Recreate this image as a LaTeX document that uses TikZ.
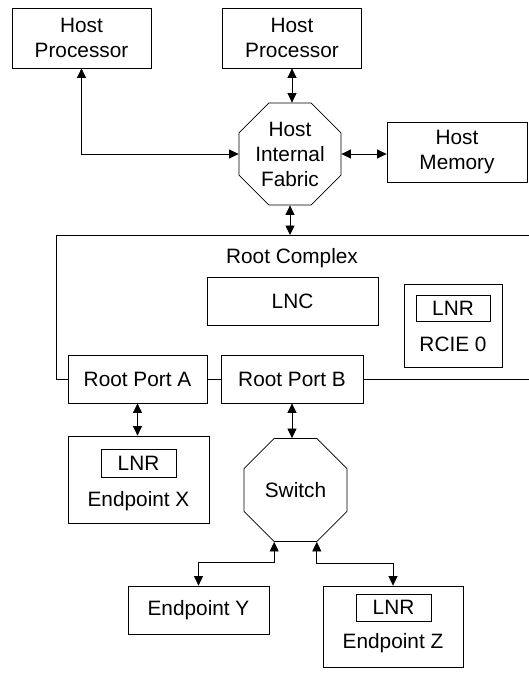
\documentclass[tikz,border=0pt]{standalone}
\usepackage{fontspec}
\setmainfont{Liberation Sans}
\usetikzlibrary{arrows.meta,shapes.geometric}
\begin{document}
\begin{tikzpicture}[x=1pt,y=-1pt,
  every node/.style={font=\fontsize{20.8}{25}\selectfont, inner sep=0pt, align=center},
  box/.style={draw, line width=0.8pt, fill=white},
  oct/.style={draw, line width=0.8pt, fill=white, regular polygon, regular polygon sides=8, minimum size=#1},
  link/.style={line width=0.8pt, {Triangle[length=9.5pt,width=9pt]}-{Triangle[length=9.5pt,width=9pt]}},
  outline/.style={line width=0.8pt}
]
\useasboundingbox (0,0) rectangle (529,675);

% Root complex outline (open on the right)
\coordinate (rcTR) at (529,235);
\coordinate (rcT) at (292,235);
\coordinate (rcTL) at (56,235);
\coordinate (rcBL) at (56,379);
\coordinate (rcBR) at (529,379);
\draw[outline] (rcTR) -- (rcTL) -- (rcBL) -- (rcBR);

% Host side
\node[box, minimum width=139pt, minimum height=60pt] (hp1) at (81.5,38) {Host\\Processor};
\node[box, minimum width=139pt, minimum height=60pt] (hp2) at (292,38) {Host\\Processor};
\node[oct=110.4pt] (fab) at (290,154) {Host\\Internal\\Fabric};
\node[box, minimum width=140pt, minimum height=60pt] (mem) at (457,152) {Host\\Memory};

% Root complex contents
\node (rclabel) at (292,258) {Root Complex};
\node[box, minimum width=171pt, minimum height=48pt] (lnc) at (292.5,301) {LNC};
\node[box, minimum width=98pt, minimum height=83pt] (rcie) at (453,325.5) {};
\node[box, minimum width=74pt, minimum height=26pt] (lnr1) at (453,308) {LNR};
\node (rcietext) at (453,344) {RCIE 0};
\node[box, minimum width=139pt, minimum height=48pt] (pa) at (137.5,379) {Root Port A};
\node[box, minimum width=142pt, minimum height=48pt] (pb) at (292,379) {Root Port B};

% Endpoint X
\node[box, minimum width=141pt, minimum height=87pt] (ex) at (138.5,479.5) {};
\node[box, minimum width=75pt, minimum height=28pt] (lnr2) at (138.5,463) {LNR};
\node (extext) at (138.5,501) {Endpoint X};

% Switch
\node[oct=111.5pt] (sw) at (295.5,490) {Switch};

% Endpoint Y
\node[box, minimum width=141pt, minimum height=48pt] (ey) at (198.5,610) {Endpoint Y};

% Endpoint Z
\node[box, minimum width=140pt, minimum height=81pt] (ez) at (393,626.5) {};
\node[box, minimum width=75pt, minimum height=27pt] (lnr3) at (393.5,607.5) {LNR};
\node (eztext) at (393,643) {Endpoint Z};

% Connectors
\draw[link] (hp1.south) |- (fab.west);
\draw[link] (hp2.south) -- (hp2.south |- fab.north);
\draw[link] (fab.east) -- (fab.east -| mem.west);
\draw[link] (fab.south) -- (fab.south |- rcT);
\draw[link] (pa.south) -- (pa.south |- ex.north);
\draw[link] (pb.south) -- (pb.south |- sw.north);
\draw[link] (ey.north) -- ++(0,-23) -| ([xshift=-21.3pt]sw.south);
\draw[link] (ez.north) -- ++(0,-22) -| ([xshift=21.3pt]sw.south);
\end{tikzpicture}
\end{document}
